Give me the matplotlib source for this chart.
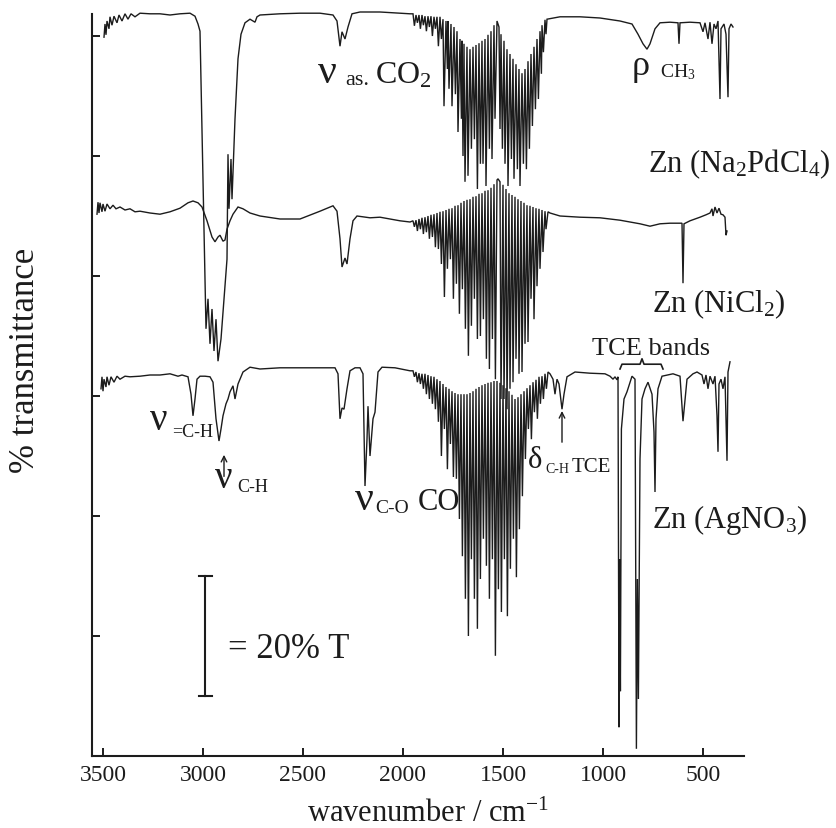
import matplotlib
matplotlib.use("Agg")
import matplotlib.pyplot as plt

# ---------------- data (wavenumber cm-1, %T offset scale) ----------------
top_pts = [
    (3495,119.8),(3490,122.0),(3485,120.2),(3480,122.5),(3470,121.2),(3465,123.2),(3455,121.8),
    (3445,123.3),(3430,122.2),(3420,123.5),(3405,122.5),(3390,123.7),(3375,122.8),(3360,123.7),
    (3340,123.2),(3315,123.8),(3265,123.7),(3215,123.7),(3165,123.5),(3115,123.7),(3065,123.8),
    (3040,123.3),(3025,122.0),(3015,120.8),(2985,71.2),(2975,76.2),(2965,68.7),(2955,74.5),
    (2945,67.5),(2935,72.8),(2925,65.8),(2910,69.5),(2895,76.2),(2880,82.8),(2875,100.3),
    (2870,91.2),(2860,99.5),(2855,92.8),(2840,106.2),(2825,116.2),(2810,120.3),(2790,122.2),
    (2765,122.8),(2740,122.3),(2730,123.2),(2715,123.5),(2615,123.7),(2515,123.8),(2415,123.8),
    (2350,123.5),(2330,122.5),(2315,118.3),(2305,120.7),(2290,119.5),(2275,121.5),(2255,123.7),
    (2215,124.0),(2115,124.0),(2015,123.8),(1965,123.7),
    (1950,123.7),(1943,121.7),(1935,123.5),(1928,122.2),(1920,123.5),(1913,121.2),(1905,123.5),
    (1898,121.8),(1890,123.3),(1883,120.8),(1875,123.3),(1868,121.5),(1860,123.3),(1853,120.0),
    (1845,123.2),(1838,121.2),(1830,123.2),(1823,118.3),(1815,123.2),(1808,119.5),(1800,122.8),
    (1795,108.3),(1785,122.5),(1778,114.5),(1775,122.5),(1770,111.2),(1760,122.0),(1755,108.3),
    (1745,121.5),(1738,110.3),(1730,120.8),(1725,104.0),(1715,119.5),(1708,106.2),(1705,119.2),
    (1700,100.0),(1695,118.7),(1690,95.7),(1680,118.2),(1675,96.7),(1665,117.8),(1658,101.2),
    (1650,118.2),(1643,102.8),(1635,118.5),(1628,94.5),(1620,118.8),(1613,98.7),(1605,119.2),
    (1600,98.7),(1590,119.5),(1585,95.0),(1575,120.2),(1568,101.2),(1560,120.8),(1555,99.5),
    (1545,121.8),(1540,106.2),(1530,122.5),(1520,121.5),(1515,104.5),(1510,120.3),(1503,101.2),
    (1495,119.2),(1490,98.7),(1480,117.8),(1475,95.0),(1465,117.0),(1458,99.5),(1450,116.2),
    (1445,96.2),(1435,115.3),(1428,97.8),(1420,114.5),(1415,95.0),(1405,113.8),(1398,98.7),
    (1390,114.5),(1383,97.8),(1375,115.8),(1368,101.2),(1360,117.0),(1353,105.0),(1345,118.2),
    (1338,107.8),(1330,119.5),(1323,109.5),(1315,120.8),(1308,113.7),(1305,121.8),(1298,117.3),
    (1290,122.7),(1285,120.3),(1280,122.8),
    (1215,123.2),(1115,123.2),(1015,123.0),(915,122.5),(855,122.0),(825,120.3),(800,118.7),
    (780,117.8),(765,118.7),(740,121.2),(715,122.2),(665,122.3),(625,122.2),(620,118.7),
    (615,122.2),(565,122.3),(515,122.2),(500,120.7),(490,122.2),(475,119.5),(465,122.3),
    (455,118.7),(445,122.0),(435,121.2),(425,122.5),(415,109.5),(410,121.2),(395,122.0),
    (385,120.3),(375,109.8),(370,121.2),(360,122.0),(350,121.5),
]

mid_pts = [
    (3530,90.3),(3525,92.3),(3520,90.5),(3515,92.2),(3505,90.7),(3500,92.0),(3490,90.8),
    (3480,92.0),(3465,91.2),(3450,91.8),(3435,91.2),(3415,91.5),(3390,91.0),(3365,91.2),
    (3340,90.7),(3315,90.8),(3265,90.5),(3215,90.3),(3165,90.7),(3115,91.3),(3075,92.2),
    (3050,92.5),(3025,92.2),(3005,91.5),(2980,89.2),(2955,86.5),(2940,85.7),(2925,86.5),
    (2915,86.8),(2900,85.8),(2890,86.0),(2880,87.8),(2865,89.2),(2850,90.3),(2825,91.5),
    (2800,91.2),(2765,90.5),(2715,90.0),(2615,89.5),(2515,89.5),(2415,90.8),(2350,91.7),
    (2330,90.8),(2315,86.2),(2305,81.5),(2290,83.0),(2280,82.0),(2265,86.2),(2250,89.2),
    (2230,90.0),(2165,89.7),(2115,89.8),(2015,89.2),(1965,89.0),
    (1950,89.2),(1943,88.2),(1935,89.3),(1928,87.5),(1920,89.5),(1913,87.8),(1905,89.7),
    (1898,87.0),(1890,89.8),(1883,87.3),(1875,90.0),(1868,86.2),(1860,90.2),(1853,86.5),
    (1845,90.3),(1838,84.8),(1830,90.5),(1823,84.5),(1815,90.7),(1808,82.0),(1800,90.8),
    (1793,76.5),(1785,91.0),(1778,81.2),(1770,91.2),(1763,82.8),(1755,91.3),(1748,76.2),
    (1740,91.7),(1733,78.7),(1725,91.8),(1718,73.7),(1710,92.2),(1703,77.8),(1695,92.5),
    (1688,71.2),(1680,92.7),(1673,66.7),(1665,92.8),(1658,71.7),(1650,93.2),(1643,76.2),
    (1635,93.3),(1628,69.5),(1620,93.7),(1613,70.0),(1605,93.8),(1598,72.8),(1590,94.2),
    (1583,66.2),(1575,94.3),(1568,64.5),(1560,94.7),(1553,69.5),(1545,95.3),(1538,62.8),
    (1530,96.0),(1525,96.2),(1515,95.7),(1510,59.5),(1500,95.2),(1495,59.5),(1485,94.5),
    (1480,57.8),(1470,93.8),(1465,61.2),(1455,93.5),(1450,62.3),(1440,93.2),(1435,66.2),
    (1425,92.8),(1420,63.7),(1410,92.5),(1405,64.0),(1395,92.2),(1390,68.7),(1380,91.8),
    (1375,69.0),(1365,91.7),(1360,76.2),(1350,91.5),(1345,72.8),(1335,91.3),(1330,78.3),
    (1320,91.2),(1315,81.2),(1305,91.0),(1300,84.0),(1290,90.8),(1285,87.8),(1275,90.7),
    (1265,90.5),(1215,90.0),(1115,89.8),(1015,89.7),(915,89.3),(815,88.7),(765,88.3),
    (715,88.7),(665,88.8),(605,88.8),(600,78.8),(595,88.7),(565,89.2),(515,89.8),(485,90.2),
    (465,90.5),(455,91.2),(450,90.0),(440,91.5),(430,90.5),(420,91.3),(410,90.3),(400,90.2),
    (390,89.8),(385,86.8),(380,87.5),
]

bot_pts = [
    (3510,61.2),(3505,63.2),(3500,60.8),(3495,62.8),(3485,61.5),(3480,63.2),(3470,61.8),
    (3460,63.2),(3445,62.3),(3430,63.3),(3415,62.8),(3390,63.3),(3365,63.2),(3315,63.3),
    (3265,63.5),(3215,63.5),(3165,63.7),(3125,63.3),(3105,63.5),(3075,63.2),(3060,60.3),
    (3050,56.7),(3040,59.5),(3030,62.8),(3015,63.3),(2990,63.3),(2965,63.2),(2950,62.3),
    (2935,56.2),(2920,52.5),(2910,54.5),(2900,56.7),(2885,58.7),(2875,59.5),(2865,60.7),
    (2850,61.7),(2840,59.5),(2825,62.0),(2800,64.0),(2765,64.8),(2715,64.5),(2615,64.7),
    (2515,64.7),(2415,64.7),(2340,64.7),(2325,63.7),(2315,56.2),(2305,58.0),(2295,57.8),
    (2280,61.2),(2265,64.2),(2240,64.7),(2215,64.7),(2200,63.7),(2190,45.0),(2180,52.8),
    (2175,58.3),(2165,50.0),(2150,56.2),(2140,57.3),(2125,64.0),(2105,64.8),(2040,64.7),
    (1965,64.2),
    (1950,64.2),(1943,63.2),(1935,64.0),(1928,62.3),(1920,63.8),(1913,62.0),(1905,63.7),
    (1898,61.2),(1890,63.7),(1883,60.3),(1875,63.5),(1868,59.5),(1860,63.3),(1853,58.7),
    (1845,63.2),(1838,57.8),(1830,62.8),(1823,55.7),(1815,62.5),(1808,50.0),(1800,62.0),
    (1793,54.5),(1785,61.5),(1778,47.8),(1770,61.2),(1763,52.0),(1755,60.8),(1748,46.5),
    (1740,60.5),(1733,46.2),(1725,60.3),(1718,39.5),(1710,60.3),(1703,33.3),(1695,60.3),
    (1688,26.2),(1680,60.3),(1673,20.0),(1665,60.5),(1658,32.8),(1650,60.8),(1643,26.2),
    (1635,61.2),(1628,21.2),(1620,61.5),(1613,29.5),(1605,61.8),(1598,36.2),(1590,62.0),
    (1583,31.7),(1575,62.2),(1568,26.2),(1560,62.3),(1553,32.8),(1545,62.5),(1538,16.7),
    (1530,62.5),(1523,27.8),(1515,62.2),(1508,24.0),(1500,61.8),(1493,32.8),(1485,61.3),
    (1478,23.3),(1470,60.8),(1463,31.2),(1455,60.2),(1448,36.2),(1440,59.5),(1433,29.8),
    (1425,59.8),(1418,37.8),(1410,60.3),(1403,43.3),(1395,60.8),(1388,49.5),(1380,61.3),
    (1373,54.5),(1365,61.8),(1358,52.8),(1350,62.3),(1343,57.3),(1335,62.7),(1328,56.2),
    (1320,63.2),(1313,58.7),(1305,63.3),(1298,59.5),(1290,63.7),(1283,61.2),(1275,64.0),
    (1265,63.7),(1250,62.8),(1240,60.3),(1230,62.8),(1220,62.0),(1205,57.8),(1195,60.3),
    (1180,63.2),(1140,64.0),(1065,63.8),(990,63.7),(965,63.3),(950,62.8),(940,63.2),
    (930,62.7),(925,63.2),(920,4.8),(917,32.8),(913,10.8),(908,54.5),(895,59.5),(880,60.7),
    (855,63.3),(840,62.8),(833,1.2),(828,29.5),(823,9.5),(815,49.5),(805,59.5),(790,61.2),
    (775,62.3),(755,60.3),(745,54.0),(740,44.0),(735,56.2),(725,61.2),(705,63.3),(650,63.7),
    (615,63.3),(600,55.8),(580,62.8),(550,63.7),(530,64.0),(505,63.5),(495,62.0),(485,63.5),
    (475,61.2),(465,63.3),(450,62.0),(440,63.3),(430,56.7),(425,50.7),(420,62.0),(410,62.8),
    (400,61.2),(390,63.2),(380,49.2),(375,64.0),(365,65.7),
]

x_ticks = [3500, 3000, 2500, 2000, 1500, 1000, 500]
y_ticks = [20, 40, 60, 80, 100, 120]
sample_labels = ['Zn (Na$_2$PdCl$_4$)', 'Zn (NiCl$_2$)', 'Zn (AgNO$_3$)']

# ---------------- style ----------------
plt.rcParams['font.family'] = ['Liberation Serif', 'DejaVu Serif']
plt.rcParams['mathtext.fontset'] = 'custom'
plt.rcParams['mathtext.rm'] = 'Liberation Serif'
plt.rcParams['mathtext.it'] = 'Liberation Serif:italic'
plt.rcParams['mathtext.bf'] = 'Liberation Serif:bold'

W, H = 836, 829
fig = plt.figure(figsize=(W / 100, H / 100), dpi=100)
ax = fig.add_axes([92 / W, 72 / H, (744 - 92) / W, (757 - 10) / H])

ink = '#1c1c1c'
for pts in (top_pts, mid_pts, bot_pts):
    wn, T = zip(*pts)
    ax.plot(wn, T, color=ink, lw=1.0, solid_joinstyle='miter')

ax.set_xlim(3555, 295)
ax.set_ylim(0, 124.5)
for s in ('top', 'right'):
    ax.spines[s].set_visible(False)
for s in ('left', 'bottom'):
    ax.spines[s].set_linewidth(1.5)
    ax.spines[s].set_color(ink)
ax.spines['left'].set_bounds(0, 123.7)

ax.set_xticks(x_ticks)
ax.set_xticklabels([str(v) for v in x_ticks])
ax.set_yticks(y_ticks)
ax.set_yticklabels([])
ax.tick_params(axis='both', direction='in', length=6, width=1.4, color=ink)
ax.tick_params(axis='x', labelsize=17, pad=5.5, labelcolor=ink)

# sample labels
ax.text(775, 97.5, sample_labels[0], fontsize=22, ha='left', va='baseline', color=ink)
ax.text(755, 74.2, sample_labels[1], fontsize=22, ha='left', va='baseline', color=ink)
ax.text(755, 38.2, sample_labels[2], fontsize=22, ha='left', va='baseline', color=ink)

# band annotations
ax.text(2425, 112.3, 'ν', fontsize=30, ha='left', va='baseline', color=ink)
ax.text(2290, 112.0, 'as.', fontsize=16, ha='left', va='baseline', color=ink)
ax.text(2140, 112.3, 'CO$_2$', fontsize=23, ha='left', va='baseline', color=ink)

ax.text(855, 113.7, 'ρ', fontsize=26, ha='left', va='baseline', color=ink)
ax.text(715, 113.3, 'CH$_3$', fontsize=14, ha='left', va='baseline', color=ink)

ax.text(760, 67.0, 'TCE bands', fontsize=19, ha='center', va='baseline', color=ink)
ax.plot([915, 905, 815, 805, 795, 710, 700], [64.5, 65.3, 65.3, 66.2, 65.3, 65.3, 64.5],
        color=ink, lw=1.2)

ax.text(3265, 54.5, 'ν', fontsize=28, ha='left', va='baseline', color=ink)
ax.text(3155, 53.3, '=C-H', fontsize=13, ha='left', va='baseline', color=ink)

ax.annotate('', xy=(2895, 50.2), xytext=(2895, 46.6),
            arrowprops=dict(arrowstyle='->', lw=1.0, color=ink, shrinkA=0, shrinkB=0))
ax.text(2940, 44.8, 'ν', fontsize=28, ha='left', va='baseline', color=ink)
ax.text(2830, 44.2, 'C-H', fontsize=13, ha='left', va='baseline', color=ink)

ax.text(2240, 41.2, 'ν', fontsize=30, ha='left', va='baseline', color=ink)
ax.text(2140, 40.7, 'C-O', fontsize=14, ha='left', va='baseline', color=ink)
ax.text(1925, 41.2, 'CO', fontsize=22, ha='left', va='baseline', color=ink)

ax.text(1375, 48.2, 'δ', fontsize=22, ha='left', va='baseline', color=ink)
ax.text(1290, 47.3, 'C-H', fontsize=10, ha='left', va='baseline', color=ink)
ax.text(1155, 47.5, 'TCE', fontsize=15, ha='left', va='baseline', color=ink)
ax.annotate('', xy=(1205, 57.5), xytext=(1205, 52.3),
            arrowprops=dict(arrowstyle='->', lw=1.0, color=ink, shrinkA=0, shrinkB=0))

# scale bar
ax.plot([2990, 2990], [10, 30], color=ink, lw=1.5)
ax.plot([3020, 2955], [30, 30], color=ink, lw=1.5)
ax.plot([3020, 2955], [10, 10], color=ink, lw=1.5)
ax.text(2875, 16.5, '= 20% T', fontsize=25, ha='left', va='baseline', color=ink)

# axis titles
fig.text(26 / W, 1 - 360 / H, '% transmittance', rotation=90, ha='center', va='center',
         fontsize=25, color=ink)
fig.text(428 / W, 7 / H, 'wavenumber / cm$^{-1}$', ha='center', va='baseline',
         fontsize=22, color=ink)

fig.savefig('out.png', dpi=100, facecolor='white')
